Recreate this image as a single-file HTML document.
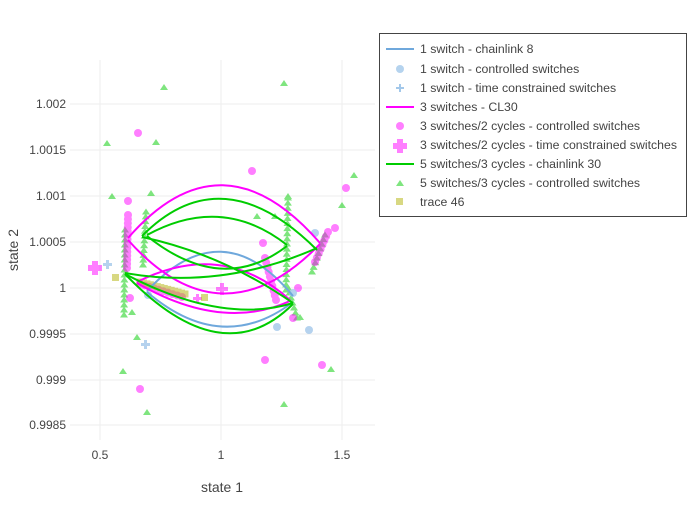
<!DOCTYPE html>
<html><head><meta charset="utf-8"><style>
body{margin:0;background:#fff}
text{font-family:"Liberation Sans",sans-serif;fill:#444}
</style></head><body>
<svg id="s" width="700" height="500" viewBox="0 0 700 500" xmlns="http://www.w3.org/2000/svg">
<g stroke="#eee" stroke-width="1">
<line x1="100" y1="60" x2="100" y2="440"/><line x1="221" y1="60" x2="221" y2="440"/><line x1="342" y1="60" x2="342" y2="440"/>
<line x1="70" y1="104" x2="375" y2="104"/><line x1="70" y1="150" x2="375" y2="150"/><line x1="70" y1="196" x2="375" y2="196"/><line x1="70" y1="242" x2="375" y2="242"/><line x1="70" y1="288" x2="375" y2="288"/><line x1="70" y1="334" x2="375" y2="334"/><line x1="70" y1="380" x2="375" y2="380"/><line x1="70" y1="425" x2="375" y2="425"/>
</g>
<g font-size="12" text-anchor="end">
<text x="66" y="108">1.002</text><text x="66" y="154">1.0015</text><text x="66" y="200">1.001</text><text x="66" y="246">1.0005</text><text x="66" y="292">1</text><text x="66" y="338">0.9995</text><text x="66" y="384">0.999</text><text x="66" y="429">0.9985</text>
</g>
<g font-size="12" text-anchor="middle"><text x="100" y="459">0.5</text><text x="221" y="459">1</text><text x="342" y="459">1.5</text></g>
<text x="222" y="492" font-size="14" text-anchor="middle">state 1</text>
<text x="18" y="250" font-size="14" text-anchor="middle" transform="rotate(-90 18 250)">state 2</text>

<g fill="#00cc00" opacity="0.5" id="tri">
<path d="M107,140l4,6h-8z"/><path d="M164,84l4,6h-8z"/><path d="M284,80l4,6h-8z"/><path d="M112,193l4,6h-8z"/><path d="M156,139l4,6h-8z"/><path d="M151,190l4,6h-8z"/><path d="M288,193l4,6h-8z"/><path d="M354,172l4,6h-8z"/><path d="M342,202l4,6h-8z"/><path d="M123,368l4,6h-8z"/><path d="M137,334l4,6h-8z"/><path d="M147,409l4,6h-8z"/><path d="M284,401l4,6h-8z"/><path d="M331,366l4,6h-8z"/><path d="M132,309l4,6h-8z"/><path d="M300,314l4,6h-8z"/><path d="M275,213l4,6h-8z"/><path d="M257,213l4,6h-8z"/>
</g>
<g fill="#ff00ff" opacity="0.5" id="mag">
<circle cx="138" cy="133" r="4"/><circle cx="128" cy="201" r="4"/><circle cx="252" cy="171" r="4"/><circle cx="346" cy="188" r="4"/><circle cx="335" cy="228" r="4"/><circle cx="263" cy="243" r="4"/><circle cx="140" cy="389" r="4"/><circle cx="265" cy="360" r="4"/><circle cx="322" cy="365" r="4"/><circle cx="130" cy="298" r="4"/><circle cx="293" cy="318" r="4"/><circle cx="298" cy="288" r="4"/>
<path d="M88,265h4v-4h6v4h4v6h-4v4h-6v-4h-4z"/><path d="M216,287h4v-4h4v4h4v4h-4v4h-4v-4h-4z"/><path d="M193,297h3v-3h3v3h3v3h-3v3h-3v-3h-3z"/>
</g>
<g fill="#a3c8ea" opacity="0.8">
<circle cx="315" cy="233" r="4"/><circle cx="277" cy="327" r="4"/><circle cx="309" cy="330" r="4"/><circle cx="293" cy="293" r="4"/><circle cx="148" cy="295" r="4"/>
<path d="M103,263h3v-3h3v3h3v3h-3v3h-3v-3h-3z"/><path d="M141,343h3v-3h3v3h3v3h-3v3h-3v-3h-3z"/>
</g>
<g fill="#b8b81c" opacity="0.55" id="sq">
<rect x="112" y="274" width="7" height="7"/><rect x="201" y="294" width="7" height="7"/>
</g>

<g fill="none" stroke-width="2">
<path d="M147,291 Q222,210 293,296" stroke="#6fa8dc"/>
<path d="M147,292 Q222,356 293,302" stroke="#6fa8dc"/>
<path d="M128,238 Q222,130 320,243" stroke="#ff00ff"/>
<path d="M128,240 Q222,345 320,244" stroke="#ff00ff"/>
<path d="M137,282 Q222,239 290,300" stroke="#ff00ff"/>
<path d="M137,283 Q222,332 290,301" stroke="#ff00ff"/>
<path d="M142,236 Q222,155 317,250" stroke="#00cc00"/>
<path d="M147,235 Q222,194 287,245" stroke="#00cc00"/>
<path d="M147,236 Q222,296 287,246" stroke="#00cc00"/>
<path d="M125,273 Q222,290 317,248" stroke="#00cc00"/>
<path d="M125,274 Q222,325 293,303" stroke="#00cc00"/>
<path d="M125,274 Q222,375 293,304" stroke="#00cc00"/>
<path d="M142,237 Q222,254 293,303" stroke="#00cc00"/>
</g>

<rect x="379.5" y="33.5" width="307" height="183" fill="#fff" stroke="#444" stroke-width="1"/>
<g font-size="12.3">
<line x1="386" y1="49" x2="414" y2="49" stroke="#6fa8dc" stroke-width="2"/><text x="420" y="53">1 switch - chainlink 8</text>
<circle cx="400" cy="69" r="4" fill="#a3c8ea" opacity="0.8"/><text x="420" y="73">1 switch - controlled switches</text>
<path d="M396,87h3v-3h2v3h3v2h-3v3h-2v-3h-3z" fill="#a3c8ea"/><text x="420" y="92">1 switch - time constrained switches</text>
<line x1="386" y1="107" x2="414" y2="107" stroke="#ff00ff" stroke-width="2"/><text x="420" y="111">3 switches - CL30</text>
<circle cx="400" cy="126" r="4" fill="#ff00ff" opacity="0.5"/><text x="420" y="130">3 switches/2 cycles - controlled switches</text>
<path d="M393,143h4v-4h6v4h4v6h-4v4h-6v-4h-4z" fill="#ff00ff" opacity="0.5"/><text x="420" y="149">3 switches/2 cycles - time constrained switches</text>
<line x1="386" y1="164" x2="414" y2="164" stroke="#00cc00" stroke-width="2"/><text x="420" y="168">5 switches/3 cycles - chainlink 30</text>
<path d="M400,180l4,6h-8z" fill="#00cc00" opacity="0.5"/><text x="420" y="187">5 switches/3 cycles - controlled switches</text>
<rect x="396" y="198" width="7" height="7" fill="#b8b81c" opacity="0.55"/><text x="420" y="206">trace 46</text>
</g>
</svg>
<script>
var NS="http://www.w3.org/2000/svg";
function seg(g,x0,y0,x1,y1,n,fn){g=document.getElementById(g);for(var i=0;i<n;i++){var t=n>1?i/(n-1):0;var x=x0+(x1-x0)*t,y=y0+(y1-y0)*t;g.appendChild(fn(x,y));}}
function tri(x,y){var p=document.createElementNS(NS,"path");p.setAttribute("d","M"+x+","+(y-3.5)+"l4,6h-8z");return p;}
function cir(x,y){var c=document.createElementNS(NS,"circle");c.setAttribute("cx",x);c.setAttribute("cy",y);c.setAttribute("r",4);return c;}
function sq(x,y){var r=document.createElementNS(NS,"rect");r.setAttribute("x",x-3.5);r.setAttribute("y",y-3.5);r.setAttribute("width",7);r.setAttribute("height",7);return r;}
seg("tri",125,230,124,315,18,tri);
seg("tri",146,212,143,265,12,tri);
seg("tri",288,198,286,290,19,tri);
seg("tri",288,288,297,318,7,tri);
seg("tri",325,235,312,272,9,tri);
seg("mag",128,215,127,268,14,cir);
seg("mag",265,258,276,300,10,cir);
seg("mag",328,232,315,262,8,cir);
seg("mag",140,284,182,297,10,cir);
seg("sq",140,282,185,294,14,sq);
</script>
</body></html>
